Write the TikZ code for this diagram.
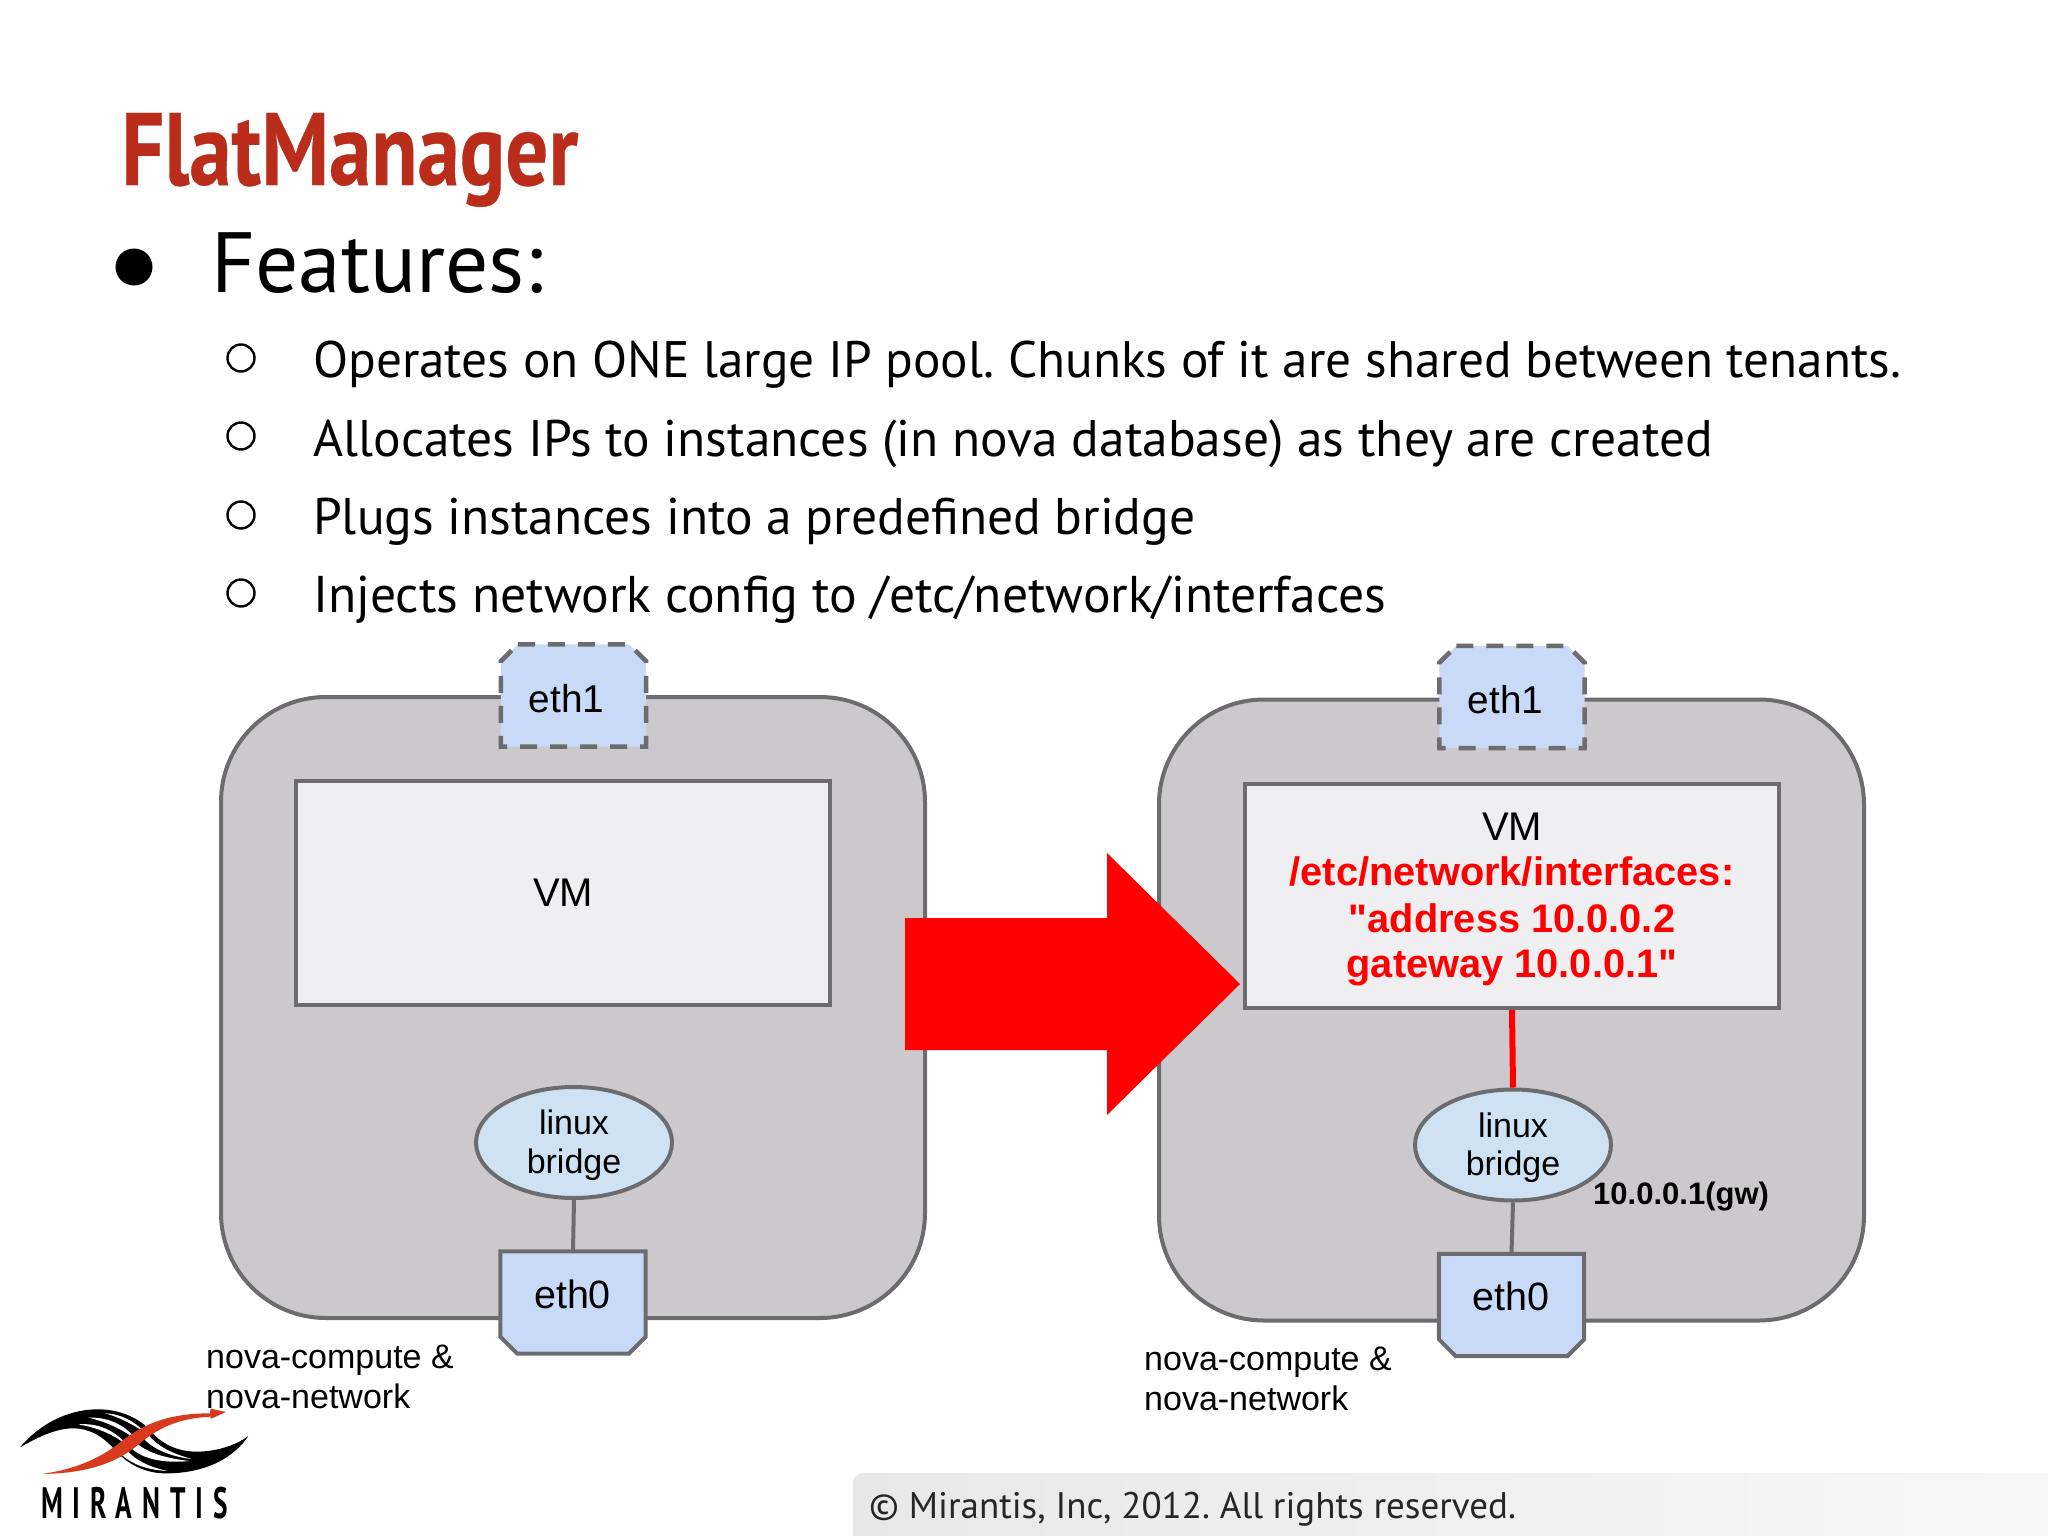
\documentclass[tikz,border=0pt]{standalone}
\usepackage{fontspec}
\setmainfont{Liberation Sans}[Ligatures=TeXOff]
\newfontfamily\ptsans{PT Sans}
\newfontfamily\ptnarrowbold[FakeStretch=0.825,FakeBold=0.3]{PT Sans Bold}
\newfontfamily\logofont[FakeStretch=0.62,LetterSpace=22.5]{PT Sans Bold}
\usetikzlibrary{shapes.geometric,calc}
\definecolor{edgegrey}{HTML}{6C6C6F}
\definecolor{hostgrey}{HTML}{CBC9CB}
\definecolor{vmfill}{HTML}{EFEEF0}
\definecolor{ethblue}{HTML}{C9DAF8}
\definecolor{bridgeblue}{HTML}{CFE2F3}
\definecolor{titlered}{HTML}{B92D1A}
\definecolor{logored}{HTML}{D93A1E}
\newcommand{\fs}[1]{\fontsize{#1}{#1}\selectfont\frenchspacing}
\tikzset{
  host/.style={draw=edgegrey,fill=hostgrey,line width=4pt,rounded corners=105pt},
  vmbox/.style={draw=edgegrey,fill=vmfill,line width=4pt,rectangle,minimum width=534pt,minimum height=224pt,inner sep=0pt},
  ethspot/.style={rectangle,minimum width=145pt,minimum height=102pt,inner sep=0pt},
  ethtopline/.style={draw=edgegrey,fill=ethblue,line width=4.5pt,dash pattern=on 17pt off 13pt,line join=miter},
  ethbotline/.style={draw=edgegrey,fill=ethblue,line width=4pt,line join=miter},
  linuxbr/.style={ellipse,draw=edgegrey,fill=bridgeblue,line width=4pt,minimum width=196pt,minimum height=111pt,inner sep=0pt},
  brtext/.style={inner sep=0pt,anchor=base,font=\fs{34}},
  wire/.style={draw=edgegrey,line width=4pt},
  redwire/.style={draw=red,line width=6pt},
  plain/.style={inner sep=0pt,font=\fs{39.5}},
  redline/.style={inner sep=0pt,anchor=base,font=\bfseries\fs{39.8},text=red},
  note/.style={inner sep=0pt,anchor=base west,font=\fs{34}},
  subitem/.style={inner sep=0pt,anchor=base west,font=\ptsans\fs{51.5}},
  ring/.style={circle,draw=black,line width=2.4pt,minimum size=27pt,inner sep=0pt},
}
\newcommand{\ethtopshape}[1]{\path[ethtopline] ($(#1.north west)+(17,0)$) -- ($(#1.north east)+(-17,0)$) -- ($(#1.north east)+(0,17)$) -- (#1.south east) -- (#1.south west) -- ($(#1.north west)+(0,17)$) -- cycle;}
\newcommand{\ethbotshape}[1]{\path[ethbotline] (#1.north west) -- (#1.north east) -- ($(#1.south east)+(0,-17)$) -- ($(#1.south east)+(-17,0)$) -- ($(#1.south west)+(17,0)$) -- ($(#1.south west)+(0,-17)$) -- cycle;}
\begin{document}
\begin{tikzpicture}[x=1pt,y=-1pt]
\useasboundingbox (0,0) rectangle (2048,1536);
\fill[white] (0,0) rectangle (2048,1536);
% footer
\shade[left color=black!9!white,right color=black!3!white] (853,1536) {[rounded corners=10pt] -- (853,1473) -- (1500,1473)} -- (2048,1473) -- (2048,1536) -- cycle;
\node[inner sep=0pt,anchor=base west,font=\ptsans\fs{37},text=black!85] (foot) at (869,1518) {© Mirantis, Inc, 2012. All rights reserved.};
% title
\node[inner sep=0pt,anchor=base west,font=\ptnarrowbold\fs{103},text=titlered] (title) at (121,185) {FlatManager};
\node[circle,fill=black,minimum size=37pt,inner sep=0pt] (b0) at (134,267) {};
\node[inner sep=0pt,anchor=base west,font=\ptsans\fs{85.5}] (features) at (211,292) {Features:};
\node[ring] (r1) at (241,358) {};
\node[ring] (r2) at (241,436) {};
\node[ring] (r3) at (241,515) {};
\node[ring] (r4) at (241,593) {};
\node[subitem,font=\ptsans\fs{51.3}] (t1) at (313,377) {Operates on ONE large IP pool. Chunks of it are shared between tenants.};
\node[subitem] (t2) at (313,456) {Allocates IPs to instances (in nova database) as they are created};
\node[subitem] (t3) at (313,534) {Plugs instances into a predefined bridge};
\node[subitem,font=\ptsans\fs{51.6}] (t4) at (313,612) {Injects network config to /etc/network/interfaces};
% left host
\draw[host] (221,697) rectangle (925,1318);
\node[vmbox] (vmL) at (563,893) {};
\node[plain,font=\fs{40}] (vmLt) at (563,893) {VM};
\node[linuxbr] (brL) at (574,1142.5) {};
\node[brtext] (brL1) at (574,1134) {linux};
\node[brtext] (brL2) at (574,1173) {bridge};
\node[ethspot] (eth1L) at (573.5,695.5) {};
\ethtopshape{eth1L}
\node[plain,font=\fs{38.8}] (eth1Lt) at (566.5,699) {eth1};
\node[ethspot] (eth0L) at (573,1302.5) {};
\ethbotshape{eth0L}
\node[plain] (eth0Lt) at (572.5,1294) {eth0};
\draw[wire] (brL.south) -- (eth0L.north);
\node[note] (nL1) at (206,1368) {nova-compute \&};
\node[note] (nL2) at (206,1408) {nova-network};
% right host
\draw[host] (1159,699.5) rectangle (1864,1320.5);
\node[vmbox] (vmR) at (1512,896) {};
\node[plain,font=\fs{40}] (vmRt) at (1512,827) {VM};
\node[redline] (a1) at (1512,885) {/etc/network/interfaces:};
\node[redline] (a2) at (1512,932) {"address 10.0.0.2};
\node[redline] (a3) at (1512,977) {gateway 10.0.0.1"};
\node[linuxbr] (brR) at (1513,1145) {};
\node[brtext] (brR1) at (1513,1137) {linux};
\node[brtext] (brR2) at (1513,1175.5) {bridge};
\node[ethspot] (eth1R) at (1512,697) {};
\ethtopshape{eth1R}
\node[plain,font=\fs{38.8}] (eth1Rt) at (1505.5,700) {eth1};
\node[ethspot] (eth0R) at (1511.5,1305) {};
\ethbotshape{eth0R}
\node[plain] (eth0Rt) at (1511,1296) {eth0};
\draw[wire] (brR.south) -- (eth0R.north);
\draw[redwire] (vmR.south) -- (brR.north);
\node[plain,anchor=base west,font=\bfseries\fs{31}] (gw) at (1593,1204) {10.0.0.1(gw)};
\node[note] (nR1) at (1144,1370.5) {nova-compute \&};
\node[note] (nR2) at (1144,1410) {nova-network};
% big arrow
\fill[red] (905,918) -- (1107,918) -- (1107,853) -- (1240,984) -- (1107,1115) -- (1107,1050) -- (905,1050) -- cycle;
% logo
\begin{scope}[shift={(0,1300)},x=0.3333pt,y=-0.3333pt]
\fill[black] (60,442) .. controls (130,360) and (220,326) .. (300,328) .. controls (370,330) and (420,360) .. (445,385) .. controls (480,430) and (530,455) .. (590,455) .. controls (650,455) and (710,435) .. (745,408) .. controls (690,490) and (590,522) .. (490,520) .. controls (430,518) and (380,490) .. (345,450) .. controls (310,410) and (270,385) .. (220,385) .. controls (160,385) and (100,420) .. (60,442) -- cycle;
\fill[white] (235,373) .. controls (300,368) and (350,395) .. (385,440) .. controls (345,405) and (300,385) .. (235,373) -- cycle;
\fill[white] (265,353) .. controls (330,350) and (380,380) .. (410,420) .. controls (370,390) and (320,365) .. (265,353) -- cycle;
\fill[white] (315,340) .. controls (365,342) and (405,365) .. (432,395) .. controls (395,372) and (355,350) .. (315,340) -- cycle;
\fill[white] (365,465) .. controls (400,495) and (445,510) .. (502,513) .. controls (445,500) and (405,480) .. (380,450) -- cycle;
\fill[white] (395,445) .. controls (430,480) and (500,490) .. (568,483) .. controls (500,475) and (445,460) .. (410,430) -- cycle;
\fill[white] (435,420) .. controls (465,450) and (515,470) .. (575,477) .. controls (515,460) and (475,440) .. (445,405) -- cycle;
\fill[logored] (125,522) .. controls (250,505) and (320,460) .. (370,420) .. controls (440,365) and (520,340) .. (630,340) -- (632,326) -- (678,336) -- (634,356) -- (630,350) .. controls (540,355) and (480,380) .. (420,430) .. controls (350,490) and (260,520) .. (125,522) -- cycle;
\end{scope}
\node[inner sep=0pt,anchor=base west,font=\logofont\fs{44}] (logo) at (41,1518) {MIRANTIS};
\end{tikzpicture}
\end{document}
